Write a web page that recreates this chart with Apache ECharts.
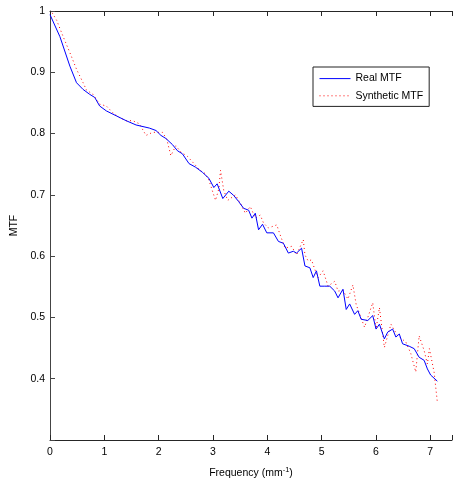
<!DOCTYPE html>
<html>
<head>
<meta charset="utf-8">
<script src="https://cdn.jsdelivr.net/npm/echarts@6/dist/echarts.min.js"></script>
<style>
html,body{margin:0;padding:0;background:#fff;}
#chart{width:455px;height:484px;}
</style>
</head>
<body>
<div id="chart"></div>
<script>
var realFreq = [0,0.183,0.366,0.488,0.609,0.731,0.823,0.914,1.037,1.219,1.402,1.585,1.828,1.951,2.042,2.133,2.254,2.346,2.437,2.559,2.682,2.803,2.925,3.016,3.077,3.181,3.291,3.382,3.473,3.565,3.656,3.717,3.779,3.839,3.912,3.991,4.113,4.205,4.296,4.388,4.479,4.539,4.631,4.693,4.784,4.845,4.905,4.967,5.059,5.150,5.241,5.302,5.393,5.453,5.516,5.607,5.667,5.728,5.850,5.941,6.002,6.064,6.155,6.216,6.307,6.367,6.430,6.490,6.612,6.704,6.795,6.887,6.947,7.007,7.130];
var realMTF = [0.994,0.958,0.910,0.883,0.872,0.864,0.859,0.845,0.837,0.829,0.821,0.814,0.809,0.805,0.797,0.792,0.782,0.772,0.767,0.751,0.745,0.737,0.727,0.712,0.718,0.694,0.706,0.699,0.689,0.678,0.675,0.662,0.670,0.643,0.652,0.638,0.638,0.624,0.621,0.605,0.608,0.605,0.613,0.584,0.581,0.565,0.576,0.551,0.551,0.551,0.543,0.532,0.546,0.513,0.522,0.505,0.511,0.497,0.495,0.503,0.481,0.489,0.465,0.476,0.481,0.468,0.473,0.457,0.453,0.449,0.435,0.430,0.416,0.406,0.396];
var synFreq = [0.04,0.122,0.243,0.366,0.488,0.609,0.671,0.792,0.914,1.037,1.157,1.280,1.402,1.523,1.645,1.768,1.888,2.071,2.148,2.225,2.316,2.408,2.528,2.651,2.761,2.852,2.925,3.047,3.108,3.139,3.199,3.272,3.413,3.505,3.596,3.687,3.779,3.870,3.931,4.022,4.174,4.236,4.327,4.448,4.539,4.662,4.693,4.753,4.814,4.876,4.936,5.027,5.119,5.241,5.302,5.393,5.484,5.576,5.636,5.790,5.941,6.002,6.064,6.155,6.276,6.399,6.550,6.642,6.733,6.795,6.887,6.947,6.984,7.070,7.130];
var synMTF = [0.997,0.985,0.958,0.932,0.905,0.883,0.871,0.864,0.848,0.845,0.834,0.826,0.821,0.821,0.816,0.797,0.802,0.802,0.791,0.764,0.780,0.770,0.763,0.751,0.740,0.735,0.724,0.691,0.710,0.740,0.707,0.691,0.700,0.686,0.670,0.681,0.662,0.667,0.654,0.646,0.651,0.635,0.613,0.616,0.602,0.627,0.602,0.592,0.594,0.578,0.565,0.576,0.551,0.559,0.543,0.544,0.530,0.553,0.521,0.484,0.524,0.481,0.516,0.451,0.489,0.470,0.460,0.441,0.411,0.470,0.446,0.424,0.449,0.411,0.362];
var xTicks = [0,1,2,3,4,5,6,7];
var yTicks = [0.4,0.5,0.6,0.7,0.8,0.9,1];

function pairs(xs, ys){ return xs.map(function(x,i){ return [x, ys[i]]; }); }

var FONT = 'Liberation Sans, Arial, Helvetica, sans-serif';
var AX = '#262626';
var chart = echarts.init(document.getElementById('chart'), null, {renderer:'canvas'});
chart.setOption({
  animation:false,
  backgroundColor:'#fff',
  grid:{left:50, top:11, right:0, bottom:40, containLabel:false},
  legend:{
    orient:'vertical', left:313, top:67,
    padding:[6,6,5,6], itemGap:6, itemWidth:31, itemHeight:14,
    borderColor:'#222', borderWidth:1, backgroundColor:'#fff',
    itemStyle:{opacity:0},
    lineStyle:{width:1},
    textStyle:{fontFamily:FONT, fontSize:10.5, color:'#000'},
    data:['Real MTF','Synthetic MTF']
  },
  xAxis:[{
    type:'value', min:0, max:7.4, interval:1, position:'bottom',
    axisLine:{show:true, onZero:false, lineStyle:{color:AX, width:1}},
    axisTick:{show:true, inside:true, length:5, lineStyle:{color:AX}},
    axisLabel:{margin:7, fontFamily:FONT, fontSize:10.5, color:'#000',
      formatter:function(v){ return xTicks.indexOf(Math.round(v))>=0 && Math.abs(v-Math.round(v))<1e-6 ? String(Math.round(v)) : ''; }},
    splitLine:{show:false},
    name:'Frequency (mm{sup|-1})', nameLocation:'middle', nameGap:26,
    nameTextStyle:{fontFamily:FONT, fontSize:10.5, color:'#000',
      rich:{sup:{fontFamily:FONT, fontSize:7.5, verticalAlign:'bottom', padding:[0,0,7,0], color:'#000'}}}
  },{
    type:'value', min:0, max:7.4, interval:1, position:'top',
    axisLine:{show:true, onZero:false, lineStyle:{color:AX, width:1}},
    axisTick:{show:true, inside:true, length:5, lineStyle:{color:AX}},
    axisLabel:{show:false}, splitLine:{show:false}
  }],
  yAxis:{
    type:'value', min:0.3, max:1.0, interval:0.1,
    axisLine:{show:true, onZero:false, lineStyle:{color:'#444', width:1}},
    axisTick:{show:true, inside:true, length:5, lineStyle:{color:'#444'}},
    axisLabel:{margin:5, fontFamily:FONT, fontSize:10.5, color:'#000',
      formatter:function(v){ var r=Math.round(v*10)/10; return yTicks.indexOf(r)>=0 ? String(r) : ''; }},
    splitLine:{show:false},
    name:'MTF', nameLocation:'middle', nameGap:23,
    nameTextStyle:{fontFamily:FONT, fontSize:10.5, color:'#000'}
  },
  series:[{
    name:'Real MTF', type:'line', xAxisIndex:0, data:pairs(realFreq, realMTF),
    symbol:'none', showSymbol:false, smooth:false,
    lineStyle:{color:'#0000ff', width:1}, itemStyle:{color:'#0000ff'}, z:3
  },{
    name:'Synthetic MTF', type:'line', xAxisIndex:0, data:pairs(synFreq, synMTF),
    symbol:'none', showSymbol:false, smooth:false,
    lineStyle:{color:'#ff0000', width:1, type:[1,3]}, itemStyle:{color:'#ff0000'}, z:2
  }]
});
</script>
</body>
</html>
